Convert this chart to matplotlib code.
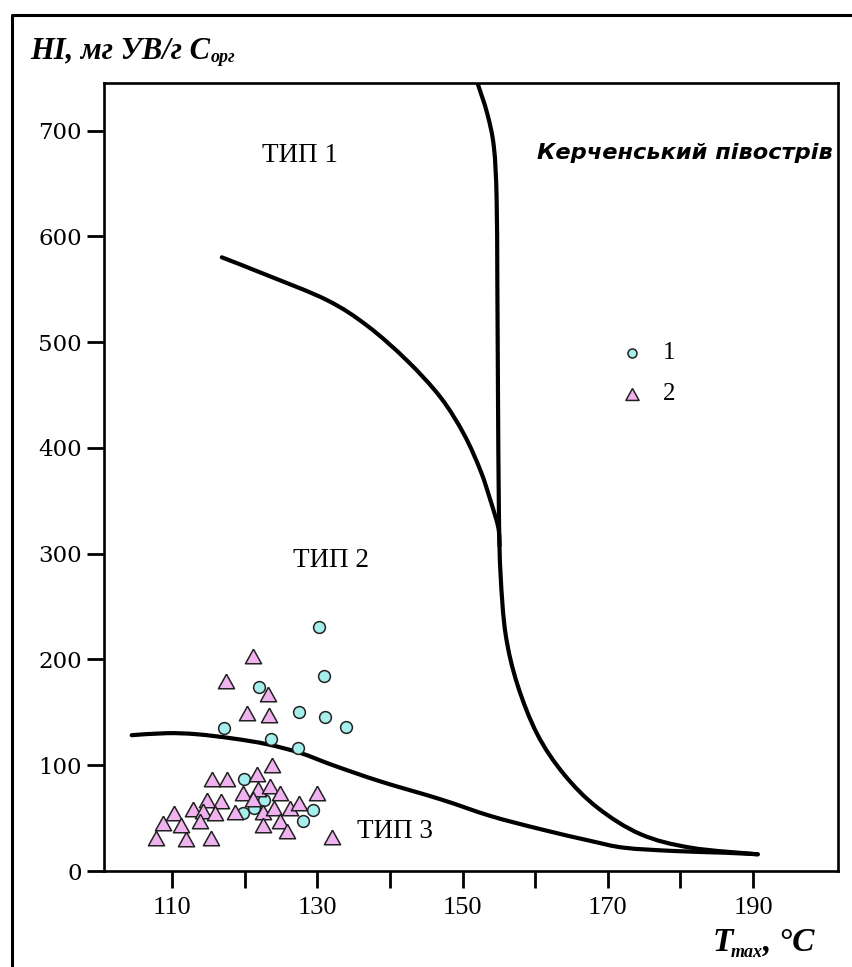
import matplotlib
matplotlib.use("Agg")
import matplotlib.pyplot as plt
from matplotlib.lines import Line2D
from matplotlib.path import Path
from matplotlib.patches import PathPatch

W, H, DPI = 853, 967, 100

# Boundary between kerogen types 1 and 2 (upper arc)
arc12_t = [116.85, 123.06, 131.34, 136.86, 142.37, 146.97, 150.18, 152.48, 153.86, 154.92, 155.1]
arc12_hi = [580.2, 563.4, 539.7, 515.6, 482.5, 447.8, 413.1, 378.4, 350.0, 324.8, 307.5]

# Steep boundary coming down from the top of the diagram
steep_t = [152.03, 153.41, 154.32, 154.69, 154.79, 154.87, 155.01, 155.24, 155.93,
           157.54, 160.30, 163.97, 168.58, 174.55, 181.45, 190.65]
steep_hi = [745.5, 715.9, 684.3, 637.0, 558.2, 463.6, 337.7, 280.0, 223.9,
            176.6, 129.2, 91.4, 59.9, 34.7, 22.0, 15.8]

# Boundary between kerogen types 2 and 3 (lower curve)
arc23_t = [104.44, 109.27, 113.41, 118.46, 123.06, 127.66, 132.25, 138.69, 146.97, 153.86,
           160.76, 167.66, 172.26, 179.15, 186.05, 190.65]
arc23_hi = [128.4, 130.3, 129.3, 125.2, 119.9, 111.6, 99.8, 84.7, 67.8, 52.0,
            39.5, 28.4, 22.0, 18.9, 17.3, 15.8]

# Samples, group 1
g1_t = [130.3, 130.9, 122.0, 127.5, 131.0, 133.9, 117.2, 123.6, 127.3,
        119.9, 122.7, 121.3, 119.8, 129.4, 128.0]
g1_hi = [231.0, 184.5, 174.0, 150.7, 145.7, 136.2, 135.6, 124.6, 116.7,
         86.8, 67.2, 59.3, 55.2, 57.4, 47.3]

# Samples, group 2
g2_t = [121.1, 117.4, 123.2, 120.3, 123.3, 123.8, 115.5, 117.6, 121.7, 119.8,
        121.9, 123.5, 124.9, 130.0, 114.8, 116.7, 121.1, 112.9, 114.2, 115.9,
        118.6, 122.5, 124.0, 126.2, 127.5, 110.3, 108.8, 111.2, 113.8, 122.5,
        124.8, 107.8, 111.9, 115.4, 125.8, 132.0]
g2_hi = [203.4, 179.8, 167.7, 149.8, 147.6, 100.0, 87.3, 86.8, 92.0, 74.1,
         77.2, 80.4, 74.1, 74.1, 67.2, 66.2, 67.8, 58.3, 56.8, 55.2,
         56.0, 56.0, 59.8, 59.8, 64.5, 55.2, 45.7, 43.5, 47.3, 43.5,
         47.3, 31.5, 30.5, 31.5, 37.8, 32.2]

x_ticks = [110, 120, 130, 140, 150, 160, 170, 180, 190]
x_ticklabels = ["110", "", "130", "", "150", "", "170", "", "190"]
y_ticks = [0, 100, 200, 300, 400, 500, 600, 700]

type_labels = ["ТИП 1", "ТИП 2", "ТИП 3"]
type_pos = [(127.6, 670.0, "center"), (131.9, 287.6, "center"), (135.5, 31.0, "left")]

CIRCLE_FC = "#a6efec"
TRI_FC = "#f1b3ef"
EDGE = "#222222"
SERIF = "Liberation Serif"

fig = plt.figure(figsize=(W / DPI, H / DPI), dpi=DPI)
fig.patch.set_facecolor("white")


def fx(px):
    return px / W


def fy(py):
    return 1 - py / H


ax = fig.add_axes([fx(104), fy(871), fx(838) - fx(104), fy(83) - fy(871)])
ax.set_xlim(100.63, 201.7)
ax.set_ylim(0, 745)

for s in ax.spines.values():
    s.set_linewidth(1.9)

ax.set_xticks(x_ticks)
ax.set_xticklabels(x_ticklabels, fontfamily=SERIF, fontsize=19)
ax.set_yticks(y_ticks)
ax.set_yticklabels([str(v) for v in y_ticks], fontfamily="DejaVu Serif", fontsize=16.5)
ax.tick_params(axis="both", direction="out", length=12, width=2.0, color="black")
ax.tick_params(axis="x", pad=7)
ax.tick_params(axis="y", pad=4)


def smooth_path(xs, ys, transform):
    """Bezier path through the given points (Catmull-Rom tangents), built in display space."""
    pts = transform.transform(list(zip(xs, ys)))
    n = len(pts)
    verts = [tuple(pts[0])]
    codes = [Path.MOVETO]
    for i in range(n - 1):
        p0 = pts[i - 1] if i > 0 else pts[i]
        p1, p2 = pts[i], pts[i + 1]
        p3 = pts[i + 2] if i + 2 < n else pts[i + 1]
        c1 = p1 + (p2 - p0) / 6.0
        c2 = p2 - (p3 - p1) / 6.0
        verts += [tuple(c1), tuple(c2), tuple(p2)]
        codes += [Path.CURVE4] * 3
    return Path(verts, codes)


fig.canvas.draw()
for xs, ys in [(arc12_t, arc12_hi), (steep_t, steep_hi), (arc23_t, arc23_hi)]:
    patch = PathPatch(smooth_path(xs, ys, ax.transData), facecolor="none", edgecolor="black",
                      lw=3.0, capstyle="round", joinstyle="round", transform=None, zorder=3)
    patch.set_clip_path(ax.patch)
    ax.add_artist(patch)

tri_marker = [(0, 0.9), (-1, -0.9), (1, -0.9), (0, 0.9)]
ax.scatter(g1_t, g1_hi, s=72, marker="o", facecolor=CIRCLE_FC, edgecolor=EDGE, linewidth=1.1, zorder=4)
ax.scatter(g2_t, g2_hi, s=135, marker=tri_marker, facecolor=TRI_FC, edgecolor=EDGE, linewidth=1.1, zorder=5)

for lab, (tx, ty, ha) in zip(type_labels, type_pos):
    ax.text(tx, ty, lab, fontfamily=SERIF, fontsize=19.5, ha=ha, va="baseline", zorder=6)

# Region name
fig.text(fx(833), fy(159), "Керченський півострів",
         fontfamily="DejaVu Sans", style="oblique", weight="bold", fontsize=16.2,
         ha="right", va="baseline")

# Legend drawn by hand
fig.add_artist(Line2D([fx(632)], [fy(353)], marker="o", markersize=6.5, markerfacecolor=CIRCLE_FC,
                      markeredgecolor=EDGE, markeredgewidth=1.1, linestyle="none"))
fig.add_artist(Line2D([fx(632)], [fy(394)], marker=tri_marker, markersize=9.5, markerfacecolor=TRI_FC,
                      markeredgecolor=EDGE, markeredgewidth=1.1, linestyle="none"))
fig.text(fx(663), fy(353), "1", fontfamily=SERIF, fontsize=18, ha="left", va="center")
fig.text(fx(663), fy(394), "2", fontfamily=SERIF, fontsize=18, ha="left", va="center")

# Outer frame (top and left edges)
fig.add_artist(Line2D([fx(12), fx(12), 1.0], [0.0, fy(15), fy(15)], color="black", lw=2.2))

# Axis titles with subscripts
renderer = fig.canvas.get_renderer()
yl = fig.text(fx(30), fy(58), "HI, мг УВ/г C", fontfamily=SERIF, style="italic", weight="bold",
              fontsize=22, va="baseline", ha="left")
bb = yl.get_window_extent(renderer)
fig.text(bb.x1 / W + 0.001, fy(62), "орг", fontfamily=SERIF, style="italic", weight="bold",
         fontsize=13, va="baseline", ha="left")

xl = fig.text(fx(713), fy(951), "T", fontfamily=SERIF, style="italic", weight="bold",
              fontsize=24, va="baseline", ha="left")
bb = xl.get_window_extent(renderer)
xs_ = fig.text(bb.x1 / W - 0.003, fy(957), "max", fontfamily=SERIF, style="italic", weight="bold",
               fontsize=13, va="baseline", ha="left")
bb = xs_.get_window_extent(renderer)
fig.text(bb.x1 / W, fy(951), ", \u00b0C", fontfamily=SERIF, style="italic", weight="bold",
         fontsize=24, va="baseline", ha="left")

fig.savefig("out.png", dpi=DPI, facecolor="white")
